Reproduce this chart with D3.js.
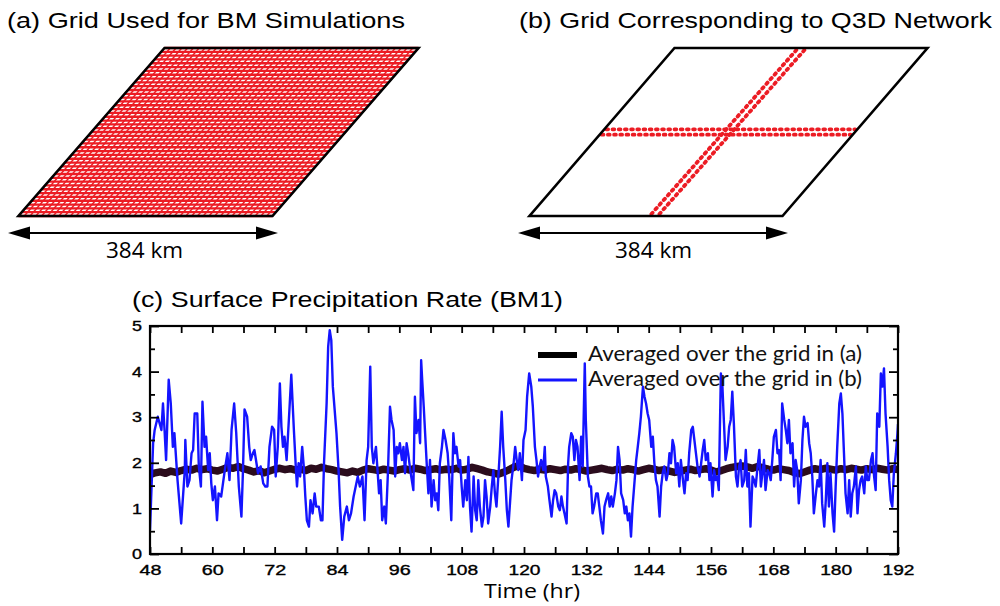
<!DOCTYPE html>
<html>
<head>
<meta charset="utf-8">
<script src="https://cdn.jsdelivr.net/npm/d3@7"></script>
<style>
  body { margin: 0; background: #fff; }
  svg { display: block; }
</style>
</head>
<body>
<div id="canvas"></div>
<script>
// DATA
const panelTitles = ["(a) Grid Used for BM Simulations", "(b) Grid Corresponding to Q3D Network", "(c) Surface Precipitation Rate (BM1)"];
const domainLabel = "384 km";
const gridCells = 44;              // cells along each side of the domain
const networkRows = [21.3, 22.7];  // bead rows of the E-W Q3D band (grid units from bottom)
const networkCols = [21.2, 22.6];  // bead rows of the N-S Q3D band (grid units from left)

const legendLabels = ["Averaged over the grid in (a)", "Averaged over the grid in (b)"];
const xLabelHours = [48, 60, 72, 84, 96, 108, 120, 132, 144, 156, 168, 180, 192];
const xTickHours = [48, 54, 60, 66, 72, 78, 84, 90, 96, 102, 108, 114, 120, 126, 132, 138, 144, 150, 156, 162, 168, 174, 180, 186, 192];
const yLabelRates = [0, 1, 2, 3, 4, 5];
const yMinorRates = [0.5, 1.5, 2.5, 3.5, 4.5];

// domain mean (grid a), hourly from 48 h
const meanStartHour = 48;
const meanRate = [
  1.74,1.78,1.80,1.77,1.82,1.79,1.83,
  1.86,1.84,1.88,1.85,1.87,1.84,
  1.82,1.86,1.90,1.88,1.92,1.87,
  1.84,1.80,1.83,1.78,1.82,1.86,
  1.88,1.85,1.87,1.84,1.86,1.83,
  1.88,1.86,1.90,1.87,1.85,1.82,
  1.80,1.78,1.82,1.79,1.84,1.87,
  1.85,1.83,1.86,1.84,1.82,1.85,
  1.87,1.84,1.88,1.86,1.83,1.85,
  1.87,1.84,1.86,1.85,1.88,1.84,
  1.86,1.90,1.87,1.84,1.80,1.78,
  1.75,1.79,1.84,1.90,1.94,1.88,
  1.85,1.83,1.86,1.84,1.87,1.85,
  1.83,1.86,1.84,1.87,1.85,1.82,
  1.84,1.86,1.88,1.85,1.83,1.86,
  1.84,1.87,1.85,1.82,1.85,1.88,
  1.86,1.83,1.85,1.82,1.79,1.81,
  1.84,1.86,1.83,1.85,1.87,1.84,
  1.80,1.83,1.87,1.90,1.92,1.93,
  1.91,1.88,1.92,1.89,1.86,1.84,
  1.87,1.85,1.83,1.79,1.76,1.80,
  1.84,1.87,1.85,1.88,1.86,1.84,
  1.87,1.85,1.88,1.86,1.84,1.87,
  1.85,1.88,1.86,1.84,1.87,1.85
];

// network mean (grid b): [hour, mm/hr]
const networkRate = [
  [48.0,0.52],[48.6,2.43],[48.9,2.72],[49.5,3.01],[50.2,2.72],[50.5,3.30],[50.8,2.72],[51.1,2.06],[51.6,3.82],[52.0,3.30],
  [52.4,2.35],[52.7,2.65],[53.3,1.62],[54.0,0.67],[54.7,1.84],[54.8,2.50],[55.2,1.48],[55.6,1.62],[56.0,2.21],[56.3,2.28],
  [56.6,3.08],[57.1,3.08],[57.4,1.92],[57.8,1.48],[58.1,3.34],[58.5,2.35],[58.8,2.57],[59.2,1.84],[59.5,2.21],[59.8,1.55],
  [60.1,1.18],[60.5,1.48],[60.9,0.74],[61.2,1.33],[61.7,1.26],[62.4,1.84],[62.9,2.21],[63.3,1.62],[63.7,2.72],[64.2,3.30],
  [64.6,2.65],[65.1,1.48],[65.6,0.82],[65.9,1.84],[66.2,3.17],[66.7,3.01],[67.1,2.35],[67.4,2.06],[67.8,2.21],[68.1,2.28],
  [68.5,1.99],[68.8,1.77],[69.3,1.92],[69.8,1.55],[70.2,1.48],[70.6,1.48],[71.0,2.35],[71.5,2.79],[71.9,2.72],[72.2,1.70],
  [72.6,2.35],[73.0,3.74],[73.3,2.79],[73.6,2.35],[73.9,2.57],[74.3,2.06],[74.8,3.08],[75.2,3.93],[75.7,2.72],[76.1,1.84],
  [76.3,1.48],[76.6,1.99],[76.9,1.70],[77.3,2.35],[77.6,1.92],[77.9,1.26],[78.2,0.74],[78.6,0.60],[78.9,1.18],[79.3,0.89],
  [79.7,1.33],[80.0,1.04],[80.5,1.04],[80.9,0.74],[81.2,0.74],[81.5,1.99],[82.0,3.30],[82.3,4.55],[82.6,4.91],[82.9,4.69],
  [83.2,3.67],[83.7,2.94],[83.9,2.65],[84.3,1.84],[84.6,1.04],[85.0,0.31],[85.4,0.82],[85.9,1.04],[86.3,0.74],[86.7,0.89],
  [87.2,1.26],[87.6,1.48],[88.0,1.70],[88.4,1.48],[88.9,1.70],[89.3,0.74],[89.7,2.06],[90.0,2.35],[90.4,4.11],[90.7,2.35],
  [91.0,1.99],[91.5,2.35],[91.8,1.84],[92.1,1.33],[92.4,1.62],[92.7,0.74],[93.1,1.04],[93.4,0.67],[93.8,1.77],[94.2,3.23],
  [94.5,2.94],[94.9,2.72],[95.2,1.70],[95.5,2.35],[95.8,2.21],[96.1,2.43],[96.5,2.06],[96.8,2.35],[97.1,1.77],[97.4,2.43],
  [97.7,2.21],[98.1,1.84],[98.4,1.62],[98.7,1.40],[99.0,3.45],[99.3,2.65],[99.7,2.94],[100.0,2.43],[100.2,4.25],[100.4,3.82],
  [100.7,3.23],[101.0,2.57],[101.3,1.92],[101.6,1.33],[101.9,2.06],[102.2,1.04],[102.6,1.62],[102.9,1.18],[103.2,1.33],[103.5,0.96],
  [103.8,1.99],[104.2,2.35],[104.5,2.72],[104.9,2.50],[105.3,2.21],[105.6,1.70],[106.0,0.74],[106.4,2.65],[106.7,2.21],[107.0,2.35],
  [107.4,1.92],[107.7,2.06],[108.0,1.48],[108.3,1.04],[108.7,1.62],[109.0,1.18],[109.3,2.13],[109.6,1.04],[109.9,0.49],[110.3,1.70],
  [110.6,0.96],[110.9,0.74],[111.2,1.62],[111.5,1.04],[111.9,0.60],[112.2,0.82],[112.5,1.62],[112.8,1.26],[113.1,0.67],[113.5,1.04],
  [113.8,1.48],[114.1,1.84],[114.4,1.33],[114.7,1.04],[115.1,1.77],[115.4,2.35],[115.7,3.12],[116.0,2.35],[116.4,1.62],[116.7,0.96],
  [117.0,0.60],[117.3,1.11],[117.6,1.62],[118.0,1.99],[118.3,2.35],[118.6,2.06],[118.9,1.84],[119.2,2.21],[119.6,1.62],[119.9,2.50],
  [120.3,2.72],[120.6,3.45],[121.0,3.96],[121.4,3.67],[121.7,3.23],[122.1,2.35],[122.4,2.06],[122.7,1.70],[123.0,1.92],[123.3,2.06],
  [123.7,1.84],[124.0,2.35],[124.2,1.70],[124.6,1.48],[124.9,1.18],[125.3,0.82],[125.6,1.18],[125.9,1.40],[126.2,1.33],[126.6,1.04],
  [126.9,0.96],[127.2,1.26],[127.5,1.04],[127.8,0.89],[128.2,0.67],[128.5,1.99],[128.7,2.35],[129.1,2.65],[129.4,2.57],[129.7,2.06],
  [130.0,2.50],[130.3,2.35],[130.7,1.62],[131.0,2.57],[131.3,1.92],[131.7,4.18],[131.9,2.94],[132.3,1.70],[132.6,1.48],[132.9,1.48],
  [133.2,0.89],[133.5,1.04],[133.9,1.33],[134.2,1.33],[134.5,1.04],[134.8,0.74],[135.2,0.45],[135.5,1.04],[135.8,1.18],[136.2,1.33],
  [136.5,1.04],[136.8,1.26],[137.1,1.04],[137.5,1.33],[137.8,1.62],[138.1,2.35],[138.4,2.06],[138.7,1.33],[139.1,1.18],[139.4,0.89],
  [139.7,1.04],[140.0,0.74],[140.3,0.89],[140.6,0.38],[140.9,1.04],[141.3,1.62],[141.6,2.06],[141.9,2.35],[142.2,2.65],[142.5,3.01],
  [142.9,3.67],[143.2,3.45],[143.5,3.30],[143.8,3.08],[144.1,2.94],[144.5,2.35],[144.8,2.57],[145.1,1.99],[145.4,1.62],[145.7,1.48],
  [146.1,0.82],[146.4,1.48],[146.7,1.77],[147.0,1.92],[147.4,1.62],[147.7,1.77],[148.0,2.21],[148.3,1.99],[148.6,2.50],[148.9,2.35],
  [149.3,1.77],[149.6,1.99],[149.9,1.48],[150.2,2.06],[150.6,1.62],[150.9,1.33],[151.2,1.77],[151.5,1.62],[151.8,2.21],[152.2,2.72],
  [152.5,2.79],[152.8,2.50],[153.1,2.21],[153.4,1.92],[153.8,1.70],[154.1,1.99],[154.4,2.28],[154.7,2.50],[155.0,2.06],[155.4,2.21],
  [155.7,1.62],[155.9,1.99],[156.3,1.26],[156.6,1.84],[156.9,1.62],[157.2,1.70],[157.5,1.40],[157.9,3.96],[158.2,3.67],[158.5,2.87],
  [158.8,2.06],[159.2,2.35],[159.5,2.79],[159.8,2.94],[160.1,3.56],[160.4,2.87],[160.8,1.70],[161.1,1.48],[161.4,1.92],[161.7,2.06],
  [162.0,1.48],[162.4,1.62],[162.7,2.28],[163.0,1.48],[163.3,1.77],[163.6,0.60],[164.0,1.70],[164.3,1.62],[164.6,1.48],[164.9,1.84],
  [165.3,2.28],[165.6,1.48],[165.9,1.77],[166.2,2.06],[166.5,1.40],[166.9,1.84],[167.2,1.77],[167.5,1.62],[167.8,2.06],[168.1,2.57],
  [168.5,2.72],[168.8,2.21],[169.1,2.28],[169.4,1.62],[169.7,3.30],[170.1,2.94],[170.4,2.72],[170.7,2.43],[171.0,2.94],[171.3,2.21],
  [171.7,2.43],[172.0,1.48],[172.3,2.06],[172.6,1.84],[172.9,1.11],[173.3,1.62],[173.6,2.50],[173.9,3.01],[174.2,2.79],[174.6,2.87],
  [174.9,2.43],[175.2,2.21],[175.5,1.70],[175.8,0.89],[176.2,1.33],[176.5,1.62],[176.8,1.48],[177.1,2.06],[177.4,1.11],[177.8,0.60],
  [178.1,1.18],[178.4,1.99],[178.7,1.04],[179.0,1.77],[179.4,0.89],[179.7,0.49],[180.0,1.48],[180.3,2.35],[180.7,3.30],[181.0,3.52],
  [181.3,3.08],[181.6,2.21],[181.9,1.33],[182.3,0.89],[182.6,1.62],[182.9,0.82],[183.2,1.33],[183.5,1.48],[183.9,1.92],[184.2,0.89],
  [184.5,1.40],[184.8,1.62],[185.1,1.70],[185.5,1.33],[185.8,1.92],[186.1,1.62],[186.4,1.62],[186.8,2.06],[187.1,2.21],[187.4,1.70],
  [187.7,1.40],[188.0,3.08],[188.4,2.79],[188.7,3.96],[189.0,3.67],[189.3,4.07],[189.6,3.08],[190.0,2.35],[190.3,1.62],[190.6,1.18],
  [190.9,1.04],[191.2,1.77],[191.6,2.21],[191.9,2.65],[192.0,2.85]
];

// DIMENSIONS
const width = 1000;
const height = 606;
const sans = "'Liberation Sans', Arial, Helvetica, sans-serif";
const myriad = "'Open Sans', 'Lato', sans-serif";
const red = "#ec1c24";

const svg = d3.select("#canvas").append("svg")
  .attr("width", width)
  .attr("height", height)
  .style("background", "#fff");

// stretched text helper (the source figure is widened horizontally)
function fit(sel, w) {
  return sel.attr("textLength", w).attr("lengthAdjust", "spacingAndGlyphs");
}

// TOP PANELS
const panels = [
  { x0: 18.5, off: 146, w: 254, top: 48, bot: 216, full: true,  title: panelTitles[0], tx: 7,   tw: 398, arrow: [8, 278],   km: 144 },
  { x0: 529.5, off: 145, w: 253, top: 48, bot: 216, full: false, title: panelTitles[1], tx: 519, tw: 473, arrow: [518, 788], km: 653 }
];

panels.forEach(p => {
  const g = svg.append("g");
  const u = d3.scaleLinear([0, gridCells], [p.x0, p.x0 + p.w]);  // along the bottom edge
  const s = d3.scaleLinear([0, gridCells], [0, p.off]);           // shear with height
  const v = d3.scaleLinear([0, gridCells], [p.bot, p.top]);
  const pt = (i, j) => [u(i) + s(j), v(j)];

  fit(g.append("text")
    .attr("x", p.tx).attr("y", 28)
    .attr("font-family", sans).attr("font-size", 22)
    .text(p.title), p.tw);

  const mesh = g.append("g").attr("stroke", red).attr("fill", "none");

  if (p.full) {
    const lines = d3.range(0, gridCells + 1);
    // E-W grid lines
    mesh.selectAll("line.row").data(lines).join("line")
      .attr("class", "row")
      .attr("x1", j => pt(0, j)[0]).attr("y1", j => pt(0, j)[1])
      .attr("x2", j => pt(gridCells, j)[0]).attr("y2", j => pt(gridCells, j)[1])
      .attr("stroke-width", 2.3);
    // N-S grid lines
    mesh.selectAll("line.col").data(lines).join("line")
      .attr("class", "col")
      .attr("x1", i => pt(i, 0)[0]).attr("y1", i => pt(i, 0)[1])
      .attr("x2", i => pt(i, gridCells)[0]).attr("y2", i => pt(i, gridCells)[1])
      .attr("stroke-width", 1.5);
  } else {
    // Q3D network: two beaded rows in each direction
    mesh.attr("stroke-width", 3.8).attr("stroke-linecap", "round").attr("stroke-dasharray", "1.8,4.4");
    mesh.selectAll("line.row").data(networkRows).join("line")
      .attr("class", "row")
      .attr("x1", j => pt(0, j)[0] + 2).attr("y1", j => pt(0, j)[1])
      .attr("x2", j => pt(gridCells, j)[0] - 2).attr("y2", j => pt(gridCells, j)[1]);
    mesh.selectAll("line.col").data(networkCols).join("line")
      .attr("class", "col")
      .attr("x1", i => pt(i, 0)[0]).attr("y1", i => pt(i, 0)[1] - 2)
      .attr("x2", i => pt(i, gridCells)[0]).attr("y2", i => pt(i, gridCells)[1] + 2);
  }

  // outline
  g.append("path")
    .attr("d", d3.line()([pt(0, 0), pt(gridCells, 0), pt(gridCells, gridCells), pt(0, gridCells)]) + "Z")
    .attr("fill", "none").attr("stroke", "#000").attr("stroke-width", 2.6)
    .attr("stroke-linejoin", "miter");

  // double arrow
  const ay = 233, [a0, a1] = p.arrow;
  g.append("line").attr("x1", a0 + 10).attr("x2", a1 - 10).attr("y1", ay).attr("y2", ay)
    .attr("stroke", "#000").attr("stroke-width", 1.8);
  g.append("path").attr("d", `M${a0},${ay}L${a0 + 22},${ay - 6.5}L${a0 + 22},${ay + 6.5}Z`).attr("fill", "#000");
  g.append("path").attr("d", `M${a1},${ay}L${a1 - 22},${ay - 6.5}L${a1 - 22},${ay + 6.5}Z`).attr("fill", "#000");

  fit(g.append("text")
    .attr("x", p.km - 38).attr("y", 258)
    .attr("font-family", myriad).attr("font-size", 21)
    .text(domainLabel), 77);
});

// LINE PLOT
const x = d3.scaleLinear([48, 192], [150, 898]);
const y = d3.scaleLinear([0, 5], [554, 326]);

fit(svg.append("text")
  .attr("x", 132).attr("y", 307)
  .attr("font-family", sans).attr("font-size", 22)
  .text(panelTitles[2]), 431);

svg.append("clipPath").attr("id", "plotclip")
  .append("rect").attr("x", 150).attr("y", 326).attr("width", 748).attr("height", 228);

const plot = svg.append("g").attr("clip-path", "url(#plotclip)");

const meanData = meanRate.map((r, i) => [meanStartHour + i, r]);
const line = d3.line().x(d => x(d[0])).y(d => y(d[1]));

plot.append("path").datum(meanData)
  .attr("d", line)
  .attr("fill", "none").attr("stroke", "#2b0c1d").attr("stroke-width", 7.5)
  .attr("stroke-linejoin", "round");

plot.append("path").datum(networkRate)
  .attr("d", line)
  .attr("fill", "none").attr("stroke", "#1414ff").attr("stroke-width", 2.4)
  .attr("stroke-linejoin", "round");

// AXES (ticks point inward on all four sides)
const axes = svg.append("g").attr("font-family", sans);

function ticks(axis, tr) {
  const g = axes.append("g").attr("transform", tr).call(axis);
  g.select(".domain").remove();
  g.selectAll("line").attr("stroke", "#000").attr("stroke-width", 1.8);
  return g;
}

ticks(d3.axisBottom(x).tickValues(xTickHours).tickSize(-7).tickFormat(""), "translate(0,554)");
ticks(d3.axisTop(x).tickValues(xTickHours).tickSize(-7).tickFormat(""), "translate(0,326)");
ticks(d3.axisLeft(y).tickValues(yLabelRates).tickSize(-9).tickFormat(""), "translate(150,0)");
ticks(d3.axisLeft(y).tickValues(yMinorRates).tickSize(-5).tickFormat(""), "translate(150,0)");
ticks(d3.axisRight(y).tickValues(yLabelRates).tickSize(-9).tickFormat(""), "translate(898,0)");
ticks(d3.axisRight(y).tickValues(yMinorRates).tickSize(-5).tickFormat(""), "translate(898,0)");

const xLab = ticks(d3.axisBottom(x).tickValues(xLabelHours).tickSize(0).tickPadding(11).tickFormat(d3.format("d")), "translate(0,554)");
xLab.selectAll("text").attr("font-size", 14.5).attr("fill", "#000")
  .attr("stroke", "#000").attr("stroke-width", 0.35)
  .each(function (d) { fit(d3.select(this), d >= 100 ? 32 : 22); });

const yLab = ticks(d3.axisLeft(y).tickValues(yLabelRates).tickSize(0).tickPadding(8).tickFormat(d3.format("d")), "translate(150,0)");
yLab.selectAll("text").attr("font-size", 14.5).attr("fill", "#000")
  .attr("stroke", "#000").attr("stroke-width", 0.35)
  .each(function () { fit(d3.select(this), 10); });

svg.append("rect")
  .attr("x", 150).attr("y", 326).attr("width", 748).attr("height", 228)
  .attr("fill", "none").attr("stroke", "#000").attr("stroke-width", 2.2);

fit(svg.append("text")
  .attr("x", 484).attr("y", 598)
  .attr("font-family", myriad).attr("font-size", 20)
  .text("Time (hr)"), 96);

// LEGEND
const legend = svg.append("g");
const legendStyle = [{ c: "#000", w: 6 }, { c: "#1414ff", w: 3 }];
legend.selectAll("line").data(legendLabels).join("line")
  .attr("x1", 538).attr("x2", 577)
  .attr("y1", (d, i) => 355 + i * 25).attr("y2", (d, i) => 355 + i * 25)
  .attr("stroke", (d, i) => legendStyle[i].c)
  .attr("stroke-width", (d, i) => legendStyle[i].w);
legend.selectAll("text").data(legendLabels).join("text")
  .attr("x", 588)
  .attr("y", (d, i) => 361 + i * 25)
  .attr("font-family", "Lato, 'Open Sans', sans-serif").attr("font-size", 20.5)
  .attr("fill", "#111")
  .text(d => d)
  .each(function () { fit(d3.select(this), 274); });
</script>
</body>
</html>
